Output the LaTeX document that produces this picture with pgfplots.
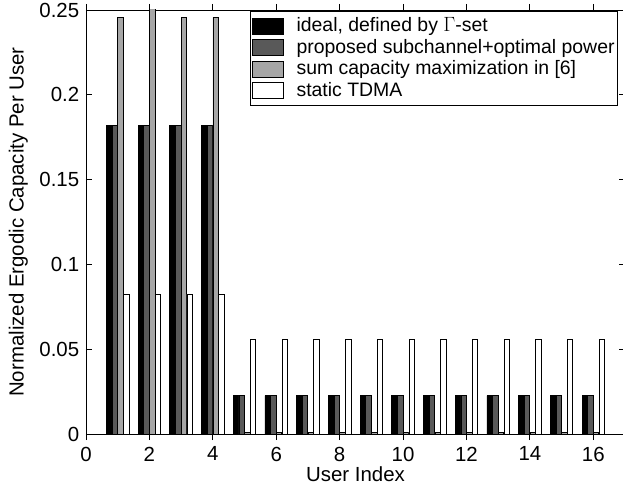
\documentclass[border=0pt]{standalone}
\usepackage{pgfplots}
\pgfplotsset{compat=1.18}
\usepackage{fontspec}
\setmainfont{Liberation Sans}
\begin{document}
\fontsize{20}{23}\selectfont
\begin{tikzpicture}[x=1bp,y=1bp]
\begin{axis}[
    scale only axis,
    width=539bp, height=424bp,
    xmin=0, xmax=17, ymin=0, ymax=0.25,
    xtick={0,2,...,16},
    ytick={0,0.05,0.1,0.15,0.2,0.25},
    yticklabel style={/pgf/number format/fixed, /pgf/number format/precision=2},
    /pgf/number format/assume math mode=true,
    tick align=inside,
    major tick length=6bp,
    axis line style={line width=0.8bp},
    every tick/.style={line width=0.8bp, black},
    ticklabel style={font=\fontsize{20.5}{23}\selectfont},
    label style={font=\fontsize{20.5}{23}\selectfont},
    xlabel={User Index},
    ylabel={Normalized Ergodic Capacity Per User},
    xlabel style={yshift=8bp},
    ylabel style={yshift=-2bp},
    ybar, bar width=0.17,
    legend cell align=left,
    legend style={at={(1,1)}, anchor=north east, xshift=-7bp, yshift=-1bp,
        font=\fontsize{19.5}{22.5}\selectfont, draw=black, line width=0.8bp,
        inner xsep=1bp, inner ysep=4bp, row sep=0.5bp,
        /tikz/every odd column/.append style={column sep=11bp}},
    legend image code/.code={\draw[#1, line width=0.8bp] (0bp,-8bp) rectangle (31bp,8bp);},
]
\addplot[draw=black, fill=black, line width=0.8bp, bar shift=-0.27] coordinates {
  (1,0.182) (2,0.182) (3,0.182) (4,0.182)
  (5,0.0226) (6,0.0226) (7,0.0226) (8,0.0226) (9,0.0226) (10,0.0226)
  (11,0.0226) (12,0.0226) (13,0.0226) (14,0.0226) (15,0.0226) (16,0.0226) };
\addplot[draw=black, fill=black!65, line width=0.8bp, bar shift=-0.09] coordinates {
  (1,0.182) (2,0.182) (3,0.182) (4,0.182)
  (5,0.0226) (6,0.0226) (7,0.0226) (8,0.0226) (9,0.0226) (10,0.0226)
  (11,0.0226) (12,0.0226) (13,0.0226) (14,0.0226) (15,0.0226) (16,0.0226) };
\addplot[draw=black, fill=black!35, line width=0.8bp, bar shift=0.09] coordinates {
  (1,0.2457) (2,0.26) (3,0.2457) (4,0.2457)
  (5,0.001) (6,0.001) (7,0.001) (8,0.001) (9,0.001) (10,0.001)
  (11,0.001) (12,0.001) (13,0.001) (14,0.001) (15,0.001) (16,0.001) };
\addplot[draw=black, fill=white, line width=0.8bp, bar shift=0.27] coordinates {
  (1,0.0824) (2,0.0824) (3,0.0824) (4,0.0824)
  (5,0.0556) (6,0.0556) (7,0.0556) (8,0.0556) (9,0.0556) (10,0.0556)
  (11,0.0556) (12,0.0556) (13,0.0556) (14,0.0556) (15,0.0556) (16,0.0556) };
\legend{{ideal, defined by $\Gamma$-set}, {proposed subchannel+optimal power}, {sum capacity maximization in [6]}, {static TDMA}}
\coordinate (sw) at (rel axis cs:0,0);
\coordinate (ne) at (rel axis cs:1,1);
\end{axis}
\pgfresetboundingbox
\path[use as bounding box] ([shift={(-86bp,-56bp)}]sw) rectangle ([shift={(-2bp,10bp)}]ne);
\end{tikzpicture}
\end{document}
